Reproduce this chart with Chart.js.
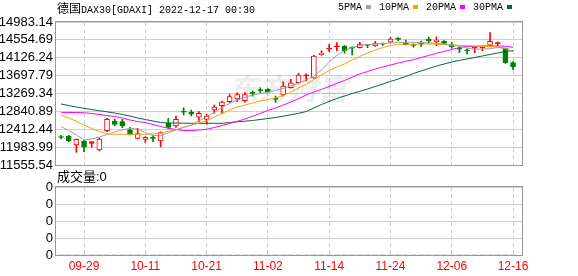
<!DOCTYPE html>
<html lang="zh">
<head>
<meta charset="UTF-8">
<title>德国DAX30[GDAXI]</title>
<script src="https://cdn.jsdelivr.net/npm/chart.js"></script>
<style>
  body { margin: 0; background: #fff; }
  #wrap { position: relative; width: 578px; height: 276px; overflow: hidden; font-family: "Liberation Sans", "Noto Sans CJK SC", sans-serif; }
  canvas { position: absolute; left: 0; top: 0; }
  .txt { position: absolute; font-size: 12px; line-height: 14px; color: #000; white-space: nowrap; }
  .mono { font-family: "Liberation Mono", "Noto Sans CJK SC", monospace; font-size: 10px; }
  .cjk { font-family: "Noto Sans CJK SC", sans-serif; font-size: 12px; }
  #title { left: 57px; top: 1px; }
  #legend { left: 338px; top: 1px; }
  #legend span.mk { display: inline-block; width: 5px; height: 4px; margin: 0 8px 1px 4px; vertical-align: middle; }
  #vol { left: 57px; top: 170px; font-size: 13px; }
</style>
</head>
<body>
<div id="wrap">
  <canvas id="priceChart" width="578" height="276"></canvas>
  <canvas id="volChart" width="578" height="276"></canvas>
  <div id="title" class="txt mono"><span class="cjk">德国</span>DAX30[GDAXI] 2022-12-17 00:30</div>
  <div id="legend" class="txt mono"></div>
  <div id="vol" class="txt">成交量:0</div>
</div>

<script>
  // trading days shown
  const dates = ['09-26','09-27','09-28','09-29','09-30','10-03','10-04','10-05','10-06','10-07',
    '10-10','10-11','10-12','10-13','10-14','10-17','10-18','10-19','10-20','10-21',
    '10-24','10-25','10-26','10-27','10-28','10-31','11-01','11-02','11-03','11-04',
    '11-07','11-08','11-09','11-10','11-11','11-14','11-15','11-16','11-17','11-18',
    '11-21','11-22','11-23','11-24','11-25','11-28','11-29','11-30','12-01','12-02',
    '12-05','12-06','12-07','12-08','12-09','12-12','12-13','12-14','12-15','12-16'];
  const tickLabels = ['09-29','10-11','10-21','11-02','11-14','11-24','12-06','12-16'];
  const yTicks = [11555.54, 11983.99, 12412.44, 12840.89, 13269.34, 13697.79, 14126.24, 14554.69, 14983.14];
  const volTicks = [0, 1, 2, 3, 4];

  const open  = [12225,12251,12035,12131,12075,11915,12377,12610,12594,12401,
    12195,12171,12205,12131,12555,12490,12830,12819,12699,12651,
    12874,12977,13073,13137,13097,13285,13350,13370,13140,13233,
    13408,13528,13690,13634,14199,14330,14385,14408,14360,14367,
    14430,14408,14455,14500,14575,14480,14428,14455,14575,14511,
    14520,14439,14338,14302,14353,14370,14425,14465,14352,14008];
  const high  = [12265,12265,12178,12155,12114,12203,12675,12658,12651,12459,
    12435,12234,12258,12353,12675,12730,12929,12875,12835,12771,
    12994,13090,13250,13289,13289,13329,13409,13385,13209,13552,
    13610,13753,13740,14185,14295,14449,14487,14420,14390,14496,
    14449,14511,14480,14615,14607,14551,14460,14527,14623,14623,
    14540,14496,14391,14343,14380,14390,14727,14503,14360,14032];
  const low   = [12180,12114,11860,11874,11980,11891,12353,12497,12449,12274,
    12180,12099,12114,11994,12435,12459,12754,12730,12593,12531,
    12795,12795,13049,13073,13060,13209,13289,13297,13057,13209,
    13400,13520,13570,13630,14185,14271,14288,14233,14192,14360,
    14367,14400,14420,14490,14535,14432,14380,14392,14472,14415,
    14439,14353,14247,14216,14247,14295,14420,14408,13990,13832];
  const close = [12215,12138,12171,11980,12114,12179,12651,12531,12490,12291,
    12306,12219,12195,12330,12459,12651,12819,12771,12795,12730,
    12946,13065,13193,13241,13241,13273,13340,13305,13129,13449,
    13528,13713,13700,14168,14240,14340,14395,14288,14353,14456,
    14420,14463,14449,14575,14568,14440,14420,14449,14527,14551,
    14472,14391,14330,14295,14375,14378,14520,14472,14008,13912];

  const ma5  = [12478,12382,12274,12155,12179,12227,12286,12346,12394,12435,
    12418,12334,12262,12262,12322,12394,12454,12514,12610,12718,
    12814,12934,13030,13113,13173,13233,13269,13305,13341,13389,
    13449,13521,13593,13689,13832,14024,14180,14300,14372,14420,
    14444,14456,14468,14480,14492,14496,14496,14492,14487,14472,
    14456,14432,14401,14360,14329,14336,14343,14372,14348,14271];
  const ma10 = [12754,12682,12603,12514,12430,12358,12298,12291,12291,12291,
    12291,12291,12298,12322,12363,12401,12466,12509,12562,12622,
    12706,12790,12874,12946,12993,13041,13089,13125,13161,13221,
    13305,13401,13485,13605,13713,13821,13904,13976,14072,14156,
    14240,14312,14372,14420,14449,14449,14449,14456,14456,14449,
    14439,14432,14425,14415,14408,14396,14396,14384,14353,14271];
  const ma20 = [12809,12814,12814,12809,12790,12766,12742,12718,12682,12634,
    12598,12574,12526,12478,12435,12406,12382,12382,12394,12413,
    12454,12502,12550,12603,12658,12723,12790,12862,12922,12994,
    13065,13145,13233,13305,13370,13437,13509,13581,13658,13737,
    13797,13856,13904,13952,14000,14041,14079,14132,14180,14233,
    14276,14324,14372,14396,14401,14408,14408,14408,14401,14377];
  const ma30 = [13017,12981,12945,12914,12885,12857,12830,12802,12766,12730,
    12682,12646,12610,12574,12562,12562,12557,12555,12555,12555,
    12555,12555,12574,12591,12605,12622,12646,12670,12694,12725,
    12759,12795,12838,12922,13006,13078,13150,13209,13269,13322,
    13377,13437,13497,13557,13617,13677,13749,13809,13868,13928,
    13976,14024,14065,14096,14132,14168,14204,14240,14276,14300];
  const volume = dates.map(() => 0);

  const maNames = ['5PMA', '10PMA', '20PMA', '30PMA'];
  const maColors = ['#a0a0a0', '#f5a300', '#ff00ff', '#006a30'];
  const UP = '#ff0000', DOWN = '#008000';

  const xMin = -0.66, xMax = 60.17;
  const tickIdx = tickLabels.map(l => dates.indexOf(l));

  document.getElementById('legend').innerHTML = maNames.map((n, i) =>
    `${n}<span class="mk" style="background:${maColors[i]}"></span>`).join('');

  const isUp = i => close[i] >= open[i];
  const wicks = dates.map((d, i) => ({ x: i, y: [low[i], high[i]] }));
  const bodies = dates.map((d, i) => ({ x: i, y: [open[i], close[i]] }));
  const bodyFill = dates.map((d, i) => isUp(i) ? (Math.abs(close[i] - open[i]) < 40 ? UP : '#fff') : DOWN);
  const candleColor = dates.map((d, i) => isUp(i) ? UP : DOWN);

  const boxPlugin = {
    id: 'box',
    afterDraw(chart) {
      const a = chart.chartArea, c = chart.ctx;
      c.save();
      c.strokeStyle = '#999';
      c.lineWidth = 1;
      c.strokeRect(Math.round(a.left) - 0.5, Math.round(a.top) - 0.5, Math.round(a.right - a.left) + 1, Math.round(a.bottom - a.top) + 1);
      c.restore();
    }
  };

  const markPlugin = {
    id: 'mark',
    beforeDatasetsDraw(chart) {
      const c = chart.ctx;
      c.save();
      c.fillStyle = 'rgba(0,0,0,0.07)';
      c.font = 'italic bold 30px "Noto Sans CJK SC"';
      c.textBaseline = 'middle';
      c.fillText('东方财富', 228, 89);
      c.restore();
    }
  };

  const gridX = { color: '#cfcfcf', drawTicks: false, offset: false };

  new Chart(document.getElementById('priceChart'), {
    type: 'bar',
    data: {
      datasets: [
        ...maNames.map((n, k) => ({
          type: 'line', label: n,
          data: [ma5, ma10, ma20, ma30][k].map((v, i) => ({ x: i, y: v })),
          borderColor: maColors[k], borderWidth: 1, pointRadius: 0, tension: 0, order: -1
        })),
        { label: 'body', data: bodies, grouped: false, barThickness: 5, minBarLength: 1,
          backgroundColor: bodyFill, borderColor: candleColor, borderWidth: 1, borderSkipped: false, order: 0 },
        { label: 'wick', data: wicks, grouped: false, barThickness: 1,
          backgroundColor: candleColor, borderWidth: 0, order: 1 }
      ]
    },
    options: {
      responsive: false, animation: false,
      layout: { padding: { top: 22, right: 56, bottom: 111, left: 0 } },
      plugins: { legend: { display: false }, tooltip: { enabled: false } },
      scales: {
        x: {
          type: 'linear', min: xMin, max: xMax, offset: false,
          afterBuildTicks: s => { s.ticks = tickIdx.map(v => ({ value: v })); },
          afterFit: s => { s.height = 0; },
          ticks: { display: false },
          grid: gridX, border: { display: false, dash: [4, 3] }
        },
        y: {
          min: yTicks[0], max: yTicks[yTicks.length - 1],
          afterBuildTicks: s => { s.ticks = yTicks.map(v => ({ value: v })); },
          afterFit: s => { s.width = 56; },
          ticks: { padding: 3, color: '#000', autoSkip: false, font: { family: 'Liberation Sans', size: 13 }, callback: v => v.toFixed(2) },
          grid: { color: '#cfcfcf', drawTicks: false }, border: { display: false }
        }
      }
    },
    plugins: [boxPlugin, markPlugin]
  });

  new Chart(document.getElementById('volChart'), {
    type: 'bar',
    data: {
      datasets: [{ label: 'volume', data: volume.map((v, i) => ({ x: i, y: v })), backgroundColor: '#888', barThickness: 5 }]
    },
    options: {
      responsive: false, animation: false,
      layout: { padding: { top: 187, right: 56, bottom: 0, left: 0 } },
      plugins: { legend: { display: false }, tooltip: { enabled: false } },
      scales: {
        x: {
          type: 'linear', min: xMin, max: xMax, offset: false,
          afterBuildTicks: s => { s.ticks = tickIdx.map(v => ({ value: v })); },
          afterFit: s => { s.height = 21; },
          ticks: { padding: 4, color: '#ff0000', font: { family: 'Liberation Sans', size: 12 },
            autoSkip: false, maxRotation: 0, callback: v => dates[v] },
          grid: gridX, border: { display: false, dash: [4, 3] }
        },
        y: {
          min: volTicks[0], max: volTicks[volTicks.length - 1],
          afterBuildTicks: s => { s.ticks = volTicks.map(v => ({ value: v })); },
          afterFit: s => { s.width = 56; },
          ticks: { padding: 3, color: '#000', autoSkip: false, font: { family: 'Liberation Sans', size: 13 }, callback: () => '0' },
          grid: { color: '#cfcfcf', drawTicks: false }, border: { display: false }
        }
      }
    },
    plugins: [boxPlugin]
  });
</script>
</body>
</html>
